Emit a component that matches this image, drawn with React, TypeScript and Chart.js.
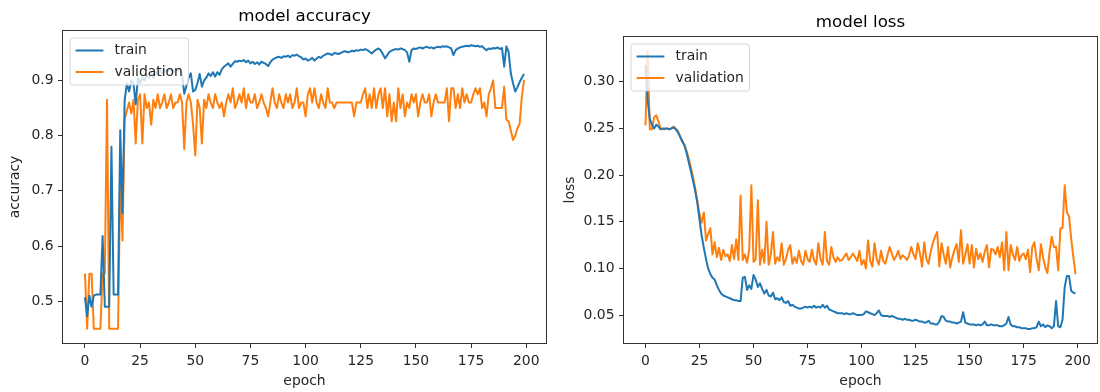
import React, { useEffect, useRef } from "react";
import { Chart, registerables } from "chart.js";

Chart.register(...registerables);

// Axis tick positions
const epochTicks = [0, 25, 50, 75, 100, 125, 150, 175, 200];
const accuracyTicks = [0.5, 0.6, 0.7, 0.8, 0.9];
const lossTicks = [0.05, 0.1, 0.15, 0.2, 0.25, 0.3];

// Training history, one value per epoch (0..199)
const accTrain = [
  0.507, 0.473, 0.51, 0.49, 0.51, 0.512, 0.512, 0.512, 0.618, 0.49,
  0.49, 0.49, 0.78, 0.512, 0.512, 0.512, 0.81, 0.66, 0.865, 0.895,
  0.88, 0.9, 0.895, 0.857, 0.905, 0.895, 0.905, 0.9, 0.91, 0.905,
  0.912, 0.905, 0.915, 0.91, 0.918, 0.912, 0.92, 0.915, 0.918, 0.922,
  0.915, 0.92, 0.918, 0.922, 0.91, 0.876, 0.89, 0.905, 0.913, 0.88,
  0.883, 0.895, 0.912, 0.889, 0.9, 0.905, 0.913, 0.908, 0.915, 0.907,
  0.915, 0.91, 0.92, 0.925, 0.928, 0.931, 0.925, 0.93, 0.935, 0.934,
  0.936, 0.935, 0.937, 0.933, 0.936, 0.931, 0.934, 0.93, 0.933, 0.929,
  0.934, 0.932, 0.93, 0.926, 0.933, 0.938, 0.94, 0.942, 0.943, 0.941,
  0.944, 0.943, 0.945, 0.942, 0.946, 0.945, 0.947, 0.944, 0.942, 0.938,
  0.94, 0.936, 0.938, 0.941, 0.936, 0.94, 0.943, 0.941, 0.945, 0.947,
  0.949, 0.948, 0.946, 0.95, 0.949, 0.948, 0.95, 0.952, 0.953, 0.951,
  0.952, 0.954, 0.953, 0.955, 0.954, 0.956, 0.955, 0.957, 0.955, 0.952,
  0.949, 0.953, 0.956, 0.958, 0.955, 0.948, 0.94, 0.946, 0.952, 0.954,
  0.956, 0.957, 0.956, 0.958, 0.957, 0.955, 0.951, 0.934, 0.955, 0.958,
  0.957, 0.959, 0.96, 0.958, 0.96, 0.961, 0.959, 0.96, 0.958, 0.96,
  0.961, 0.96, 0.962, 0.961, 0.962, 0.96, 0.958, 0.946, 0.955, 0.958,
  0.96, 0.961, 0.962, 0.963, 0.962, 0.964, 0.963, 0.962, 0.963, 0.961,
  0.962, 0.958, 0.955, 0.958, 0.957, 0.959, 0.958, 0.96, 0.957, 0.959,
  0.925, 0.962, 0.952, 0.913, 0.895, 0.88, 0.888, 0.897, 0.905, 0.912,
];

const accVal = [
  0.55, 0.45, 0.55, 0.55, 0.45, 0.45, 0.45, 0.45, 0.55, 0.55,
  0.865, 0.45, 0.45, 0.45, 0.45, 0.45, 0.725, 0.61, 0.83, 0.845,
  0.86, 0.84, 0.865, 0.786, 0.865, 0.875, 0.786, 0.875, 0.85, 0.86,
  0.82, 0.865, 0.85, 0.875, 0.85, 0.86, 0.875, 0.85, 0.86, 0.875,
  0.85, 0.86, 0.86, 0.875, 0.86, 0.776, 0.86, 0.875, 0.86, 0.82,
  0.764, 0.865, 0.85, 0.786, 0.865, 0.85, 0.875, 0.86, 0.85, 0.875,
  0.86, 0.85, 0.86, 0.835, 0.86, 0.875, 0.86, 0.886, 0.85, 0.86,
  0.875, 0.86, 0.886, 0.85, 0.875, 0.86, 0.86, 0.875, 0.85, 0.86,
  0.875, 0.86, 0.85, 0.835, 0.86, 0.886, 0.86, 0.85, 0.875, 0.86,
  0.85, 0.875, 0.86, 0.875, 0.85, 0.86, 0.886, 0.85, 0.86, 0.86,
  0.835, 0.875, 0.886, 0.86, 0.886, 0.86, 0.85, 0.875, 0.86, 0.85,
  0.886, 0.86, 0.86, 0.85, 0.86, 0.86, 0.86, 0.86, 0.86, 0.86,
  0.86, 0.86, 0.835, 0.86, 0.86, 0.86, 0.875, 0.886, 0.85, 0.875,
  0.85, 0.886, 0.85, 0.875, 0.886, 0.85, 0.886, 0.835, 0.875, 0.826,
  0.86, 0.826, 0.886, 0.85, 0.875, 0.835, 0.86, 0.85, 0.875, 0.86,
  0.875, 0.835, 0.86, 0.875, 0.86, 0.86, 0.875, 0.835, 0.86, 0.875,
  0.86, 0.86, 0.86, 0.86, 0.886, 0.826, 0.886, 0.886, 0.85, 0.875,
  0.85, 0.886, 0.86, 0.875, 0.86, 0.86, 0.875, 0.886, 0.875, 0.886,
  0.85, 0.86, 0.835, 0.875, 0.886, 0.9, 0.85, 0.85, 0.85, 0.85,
  0.889, 0.829, 0.826, 0.81, 0.792, 0.8, 0.813, 0.822, 0.87, 0.901,
];

const lossTrain = [
  0.318, 0.28, 0.26, 0.254, 0.25, 0.254, 0.252, 0.249, 0.25, 0.25,
  0.25, 0.249, 0.25, 0.251, 0.249, 0.246, 0.241, 0.236, 0.232, 0.224,
  0.214, 0.204, 0.194, 0.183, 0.17, 0.152, 0.135, 0.122, 0.11, 0.1,
  0.094, 0.09, 0.088, 0.082, 0.077, 0.073, 0.071, 0.07, 0.069, 0.068,
  0.067, 0.066, 0.066, 0.065, 0.065, 0.09, 0.091, 0.077, 0.082, 0.078,
  0.093, 0.088, 0.08, 0.084, 0.078, 0.073, 0.077, 0.071, 0.07, 0.074,
  0.067, 0.068, 0.066, 0.069, 0.064, 0.063, 0.065, 0.06, 0.061, 0.059,
  0.058, 0.057, 0.057, 0.058, 0.059, 0.058, 0.059, 0.058, 0.06, 0.058,
  0.059, 0.058, 0.061, 0.058, 0.06, 0.056, 0.055, 0.054, 0.053, 0.052,
  0.052, 0.052, 0.051, 0.052, 0.051, 0.051, 0.052, 0.051, 0.05, 0.05,
  0.05, 0.051, 0.054, 0.053, 0.052, 0.051, 0.05, 0.052, 0.055, 0.05,
  0.049, 0.049, 0.049, 0.048, 0.049, 0.048, 0.047, 0.046, 0.046, 0.045,
  0.046, 0.045, 0.045, 0.044, 0.044, 0.045, 0.044, 0.043, 0.043, 0.042,
  0.042, 0.044, 0.041, 0.041, 0.04, 0.04, 0.043, 0.049, 0.048, 0.044,
  0.043, 0.043, 0.042, 0.042, 0.041, 0.042, 0.043, 0.053, 0.042, 0.041,
  0.04, 0.04, 0.04, 0.039, 0.04, 0.039, 0.04, 0.043, 0.039, 0.039,
  0.04, 0.039, 0.039, 0.039, 0.038, 0.038, 0.039, 0.041, 0.048, 0.04,
  0.038, 0.038, 0.037, 0.037, 0.036, 0.036, 0.036, 0.035, 0.035, 0.036,
  0.036, 0.037, 0.043, 0.038, 0.04, 0.037, 0.039, 0.038, 0.036, 0.038,
  0.065, 0.038, 0.037, 0.045, 0.08, 0.092, 0.092, 0.076, 0.074, 0.073,
];

const lossVal = [
  0.253, 0.333, 0.249, 0.249, 0.262, 0.264, 0.257, 0.25, 0.249, 0.249,
  0.25, 0.249, 0.25, 0.252, 0.25, 0.247, 0.242, 0.237, 0.232, 0.226,
  0.218, 0.208, 0.198, 0.186, 0.172, 0.158, 0.149, 0.16, 0.13, 0.137,
  0.143, 0.115, 0.128, 0.112, 0.122, 0.109, 0.12, 0.113, 0.115, 0.108,
  0.125, 0.11, 0.131, 0.109, 0.178, 0.109, 0.115, 0.106, 0.12, 0.189,
  0.107, 0.11, 0.173, 0.104, 0.12, 0.106, 0.15, 0.104, 0.115, 0.139,
  0.105, 0.112, 0.108, 0.127, 0.104, 0.11, 0.12, 0.125, 0.105, 0.112,
  0.106, 0.119, 0.108, 0.104, 0.119, 0.11, 0.107, 0.12, 0.109, 0.104,
  0.127, 0.11, 0.104, 0.139, 0.108, 0.104, 0.123, 0.112, 0.107, 0.112,
  0.108, 0.109, 0.113, 0.116, 0.109, 0.112, 0.116, 0.112, 0.108, 0.119,
  0.104, 0.109, 0.1, 0.13, 0.108, 0.102, 0.127, 0.11, 0.104, 0.119,
  0.108, 0.105, 0.114, 0.123, 0.116, 0.109, 0.113, 0.119, 0.11, 0.114,
  0.112, 0.109, 0.114, 0.123, 0.115, 0.11, 0.127, 0.116, 0.102, 0.128,
  0.11, 0.105, 0.118, 0.127, 0.134, 0.139, 0.102, 0.127, 0.115, 0.105,
  0.123, 0.101, 0.112, 0.12, 0.126, 0.107, 0.141, 0.105, 0.115, 0.126,
  0.105, 0.125, 0.101, 0.121, 0.11, 0.116, 0.107, 0.118, 0.125, 0.101,
  0.121, 0.12, 0.115, 0.123, 0.112, 0.128, 0.098, 0.139, 0.098, 0.125,
  0.115, 0.109, 0.123, 0.108, 0.114, 0.116, 0.11, 0.12, 0.096, 0.123,
  0.128, 0.11, 0.098, 0.126, 0.112, 0.101, 0.095, 0.118, 0.134, 0.123,
  0.123, 0.098, 0.143, 0.143, 0.189, 0.16, 0.156, 0.132, 0.112, 0.094,
];

const BLUE = "#1f77b4";
const ORANGE = "#ff7f0e";
const FONT = "'DejaVu Sans', 'Liberation Sans', sans-serif";
const TEXT = "#262626";
const AXIS = "#333333";
const TICK_SIZE = 13.9;
const TITLE_SIZE = 16.7;
const HEIGHT = 392;

// Axes box around the plot area
const framePlugin = {
  id: "frame",
  afterDatasetsDraw(chart: any) {
    const { ctx, chartArea: ca } = chart;
    ctx.save();
    ctx.strokeStyle = AXIS;
    ctx.lineWidth = 1;
    ctx.strokeRect(ca.left - 0.5, ca.top - 0.5, ca.right - ca.left + 1, ca.bottom - ca.top + 1);
    ctx.restore();
  },
};

// Panel title centred over the plot area
const panelTitlePlugin = {
  id: "panelTitle",
  afterDraw(chart: any, _args: any, opts: any) {
    const { ctx, chartArea: ca } = chart;
    ctx.save();
    ctx.font = `${TITLE_SIZE}px ${FONT}`;
    ctx.fillStyle = "#000";
    ctx.textAlign = "center";
    ctx.textBaseline = "middle";
    ctx.fillText(opts.text, (ca.left + ca.right) / 2, opts.y);
    ctx.restore();
  },
};

// Framed legend in the upper-left corner of the plot area
const cornerLegendPlugin = {
  id: "cornerLegend",
  afterDraw(chart: any) {
    const { ctx, chartArea: ca } = chart;
    const items = chart.data.datasets.map((d: any) => ({ label: d.label, color: d.borderColor }));
    ctx.save();
    ctx.font = `${TICK_SIZE}px ${FONT}`;
    const textW = Math.max(...items.map((i: any) => ctx.measureText(i.label).width));
    const x = ca.left + 7;
    const y = ca.top + 7;
    const w = 5.6 + 27.8 + 11.1 + textW + 5.6;
    const h = 47;
    const r = 3;
    ctx.beginPath();
    ctx.moveTo(x + r, y);
    ctx.lineTo(x + w - r, y);
    ctx.arcTo(x + w, y, x + w, y + r, r);
    ctx.lineTo(x + w, y + h - r);
    ctx.arcTo(x + w, y + h, x + w - r, y + h, r);
    ctx.lineTo(x + r, y + h);
    ctx.arcTo(x, y + h, x, y + h - r, r);
    ctx.lineTo(x, y + r);
    ctx.arcTo(x, y, x + r, y, r);
    ctx.closePath();
    ctx.fillStyle = "rgba(255,255,255,0.8)";
    ctx.fill();
    ctx.strokeStyle = "rgba(204,204,204,0.8)";
    ctx.lineWidth = 1;
    ctx.stroke();
    items.forEach((it: any, i: number) => {
      const cy = y + 12.5 + i * 21.5;
      ctx.beginPath();
      ctx.moveTo(x + 5.6, cy);
      ctx.lineTo(x + 33.4, cy);
      ctx.strokeStyle = it.color;
      ctx.lineWidth = 2;
      ctx.stroke();
      ctx.fillStyle = TEXT;
      ctx.textAlign = "left";
      ctx.textBaseline = "middle";
      ctx.fillText(it.label, x + 44.5, cy);
    });
    ctx.restore();
  },
};

type PanelProps = {
  title: string;
  yLabel: string;
  train: number[];
  val: number[];
  yTicks: number[];
  decimals: number;
  left: number;
  width: number;
  padTop: number;
  padRight: number;
  axisWidth: number;
  yTitlePad: number;
  titleY: number;
};

function Panel(p: PanelProps) {
  const ref = useRef<HTMLCanvasElement>(null);

  useEffect(() => {
    const canvas = ref.current;
    if (!canvas) return;

    const all = [...p.train, ...p.val];
    const lo = Math.min(...all);
    const hi = Math.max(...all);
    const yPad = (hi - lo) * 0.05;
    const n = p.train.length;
    const xPad = (n - 1) * 0.05;

    const font = { family: FONT, size: TICK_SIZE };

    const chart = new Chart(canvas, {
      type: "line",
      data: {
        datasets: [
          {
            label: "train",
            data: p.train.map((v, i) => ({ x: i, y: v })),
            borderColor: BLUE,
            backgroundColor: BLUE,
            borderWidth: 2,
            pointRadius: 0,
            tension: 0,
            borderJoinStyle: "round",
          },
          {
            label: "validation",
            data: p.val.map((v, i) => ({ x: i, y: v })),
            borderColor: ORANGE,
            backgroundColor: ORANGE,
            borderWidth: 2,
            pointRadius: 0,
            tension: 0,
            borderJoinStyle: "round",
          },
        ],
      },
      options: {
        animation: false,
        responsive: false,
        devicePixelRatio: 1,
        events: [],
        layout: { padding: { left: 0, right: p.padRight, top: p.padTop, bottom: 0 } },
        plugins: {
          legend: { display: false },
          tooltip: { enabled: false },
          title: { display: false },
          panelTitle: { text: p.title, y: p.titleY },
        } as any,
        scales: {
          x: {
            type: "linear",
            min: -xPad,
            max: n - 1 + xPad,
            afterBuildTicks: (s: any) => {
              s.ticks = epochTicks.map((v) => ({ value: v }));
            },
            afterFit: (s: any) => {
              s.height = 49;
            },
            ticks: {
              font,
              color: TEXT,
              padding: 5.2,
              maxRotation: 0,
              autoSkip: false,
              callback: (v: any) => String(v),
            },
            grid: { drawOnChartArea: false, drawTicks: true, tickLength: 5, color: AXIS, lineWidth: 1 },
            border: { display: false },
            title: { display: true, text: "epoch", font, color: TEXT, padding: { top: 0, bottom: 2.2 } },
          },
          y: {
            type: "linear",
            min: lo - yPad,
            max: hi + yPad,
            afterBuildTicks: (s: any) => {
              s.ticks = p.yTicks.map((v) => ({ value: v }));
            },
            afterFit: (s: any) => {
              s.width = p.axisWidth;
            },
            ticks: {
              font,
              color: TEXT,
              padding: 4.5,
              autoSkip: false,
              callback: (v: any) => Number(v).toFixed(p.decimals),
            },
            grid: { drawOnChartArea: false, drawTicks: true, tickLength: 5, color: AXIS, lineWidth: 1 },
            border: { display: false },
            title: { display: true, text: p.yLabel, font, color: TEXT, padding: { top: p.yTitlePad, bottom: 0 } },
          },
        },
      },
      plugins: [framePlugin, panelTitlePlugin, cornerLegendPlugin],
    } as any);

    return () => chart.destroy();
  }, []);

  return (
    <canvas
      ref={ref}
      width={p.width}
      height={HEIGHT}
      style={{ position: "absolute", left: p.left, top: 0, width: p.width, height: HEIGHT }}
    />
  );
}

export default function App() {
  return (
    <div style={{ position: "fixed", left: 0, top: 0, width: 1100, height: HEIGHT, background: "#fff" }}>
      <Panel
        title="model accuracy"
        yLabel="accuracy"
        train={accTrain}
        val={accVal}
        yTicks={accuracyTicks}
        decimals={1}
        left={0}
        width={560}
        padTop={31}
        padRight={14}
        axisWidth={63}
        yTitlePad={7.2}
        titleY={16.5}
      />
      <Panel
        title="model loss"
        yLabel="loss"
        train={lossTrain}
        val={lossVal}
        yTicks={lossTicks}
        decimals={2}
        left={560}
        width={540}
        padTop={37}
        padRight={3}
        axisWidth={64}
        yTitlePad={1.7}
        titleY={22.5}
      />
    </div>
  );
}
